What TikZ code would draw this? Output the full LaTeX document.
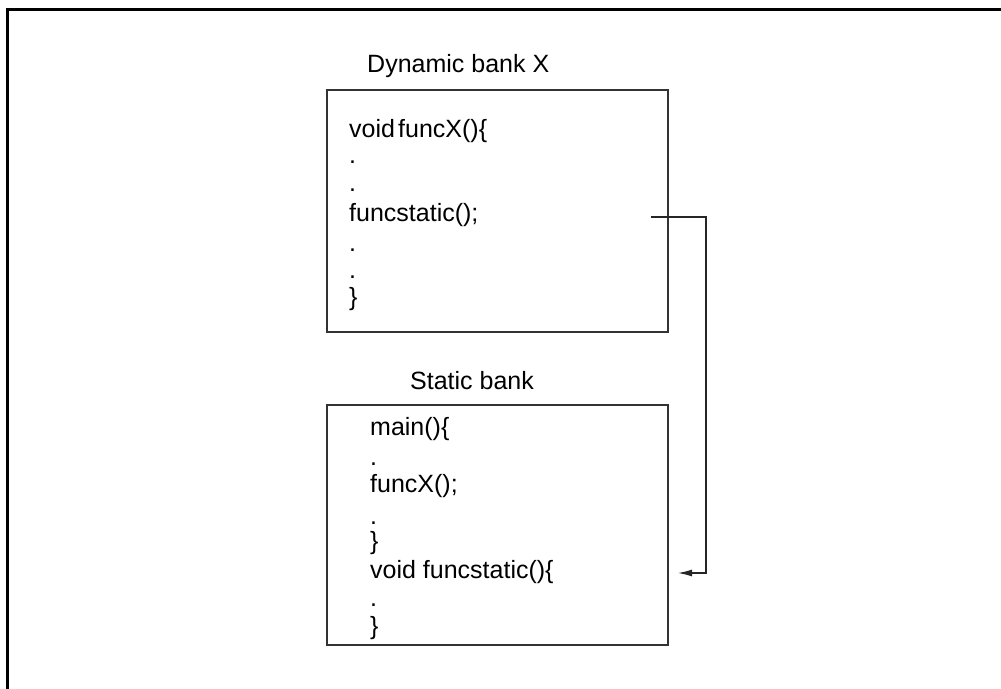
\documentclass[tikz,border=0pt]{standalone}
\usepackage{fontspec}
\setmainfont{Liberation Sans}
\newfontfamily\tightsans[WordSpace=0.45]{Liberation Sans}
\usetikzlibrary{arrows.meta}
\tikzset{
  frame/.style={line width=3pt, black},
  bankbox/.style={draw=black!80, line width=1.1pt},
  codeline/.style={anchor=base west, inner sep=0pt, font=\fontsize{25}{30}\selectfont},
  banktitle/.style={anchor=base west, inner sep=0pt, font=\fontsize{25}{30}\selectfont},
  callarrow/.style={draw=black!85, line width=1.2pt, -{Latex[length=14pt,width=7pt]}}
}
\begin{document}
\begin{tikzpicture}[x=1pt,y=-1pt]
\useasboundingbox (0,0) rectangle (1001,688);
\clip (0,0) rectangle (1001,688);
% outer frame (cut by the picture edges)
\draw[frame] (7.5,700) -- (7.5,9) -- (1010,9);

% Dynamic bank X
\node[banktitle] (dyntitle) at (367,72) {Dynamic bank X};
\draw[bankbox] (327,90) rectangle (668,332);
\node[codeline] (d1) at (349,137) {\tightsans void funcX()\{};
\node[codeline] (d2) at (349,163) {.};
\node[codeline] (d3) at (349,191) {.};
\node[codeline] (d4) at (349,221) {funcstatic();};
\node[codeline] (d5) at (349,251) {.};
\node[codeline] (d6) at (349,278) {.};
\node[codeline] (d7) at (349,305) {\}};

% Static bank
\node[banktitle] (sttitle) at (410,389) {Static bank};
\draw[bankbox] (327,405) rectangle (668,645);
\node[codeline] (s1) at (370,435) {main()\{};
\node[codeline] (s2) at (370,465) {.};
\node[codeline] (s3) at (370,492) {funcX();};
\node[codeline] (s4) at (370,524) {.};
\node[codeline] (s5) at (370,549) {\}};
\node[codeline] (s6) at (370,578) {void funcstatic()\{};
\node[codeline] (s7) at (370,606) {.};
\node[codeline] (s8) at (370,634) {\}};

% call connector
\coordinate (callsrc) at (651,217);
\coordinate (calltgt) at (678,573);
\draw[callarrow] (callsrc) -- ++(55,0) |- (calltgt);
\end{tikzpicture}
\end{document}
